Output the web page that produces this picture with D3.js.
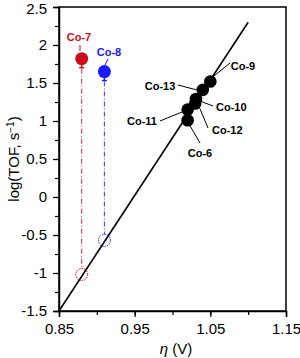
<!DOCTYPE html>
<html>
<head>
<meta charset="utf-8">
<script src="https://cdn.jsdelivr.net/npm/d3@7"></script>
<style>
  body { margin: 0; background: #fff; }
  svg { font-family: "Liberation Sans", Arial, sans-serif; }
</style>
</head>
<body>
<svg id="chart" width="300" height="358"></svg>
<script>
// Data
const blackPoints = [
    {name: "Co-9",  eta: 1.05,  logTOF: 1.52},
    {name: "Co-13", eta: 1.04,  logTOF: 1.41},
    {name: "Co-10", eta: 1.031, logTOF: 1.29},
    {name: "Co-12", eta: 1.03,  logTOF: 1.23},
    {name: "Co-11", eta: 1.02,  logTOF: 1.15},
    {name: "Co-6",  eta: 1.02,  logTOF: 1.01}
];
const colorPoints = [
    {name: "Co-7", eta: 0.88, logTOF: 1.82, onLine: -1.02, color: "#cc0a1e"},
    {name: "Co-8", eta: 0.91, logTOF: 1.65, onLine: -0.57, color: "#1a1aff"}
];
const fitLine = [{eta: 0.85, logTOF: -1.5}, {eta: 1.10, logTOF: 2.30}];
const xTicks = [0.85, 0.95, 1.05, 1.15];
const yTicks = [-1.5, -1, -0.5, 0, 0.5, 1, 1.5, 2, 2.5];

// label positions and leader line ends (px)
const labelSpec = {
    "Co-9":  {tx: 243, ty: 70, anchor: "middle", lx1: 214, ly1: 76, lx2: 230, ly2: 63},
    "Co-13": {tx: 160, ty: 90, anchor: "middle", lx1: 178, ly1: 85, lx2: 197, ly2: 90},
    "Co-10": {tx: 216, ty: 111, anchor: "start", lx1: 200, ly1: 101, lx2: 213, ly2: 106},
    "Co-12": {tx: 212, ty: 134, anchor: "start", lx1: 198, ly1: 104, lx2: 208, ly2: 128},
    "Co-11": {tx: 142, ty: 125, anchor: "middle", lx1: 160, ly1: 121, lx2: 182, ly2: 112},
    "Co-6":  {tx: 200, ty: 157, anchor: "middle", lx1: 189, ly1: 124, lx2: 200, ly2: 143},
    "Co-7":  {tx: 79, ty: 41, anchor: "middle", lx1: 80, ly1: 45, lx2: 80, ly2: 51},
    "Co-8":  {tx: 109, ty: 56, anchor: "middle", lx1: 108, ly1: 59, lx2: 105, ly2: 65}
};

const svg = d3.select("#chart");
const margin = {top: 7, right: 14, bottom: 47, left: 59};
const width = 300 - margin.left - margin.right;
const height = 358 - margin.top - margin.bottom;

const x = d3.scaleLinear().domain([0.85, 1.15]).range([0, width]);
const y = d3.scaleLinear().domain([-1.5, 2.5]).range([height, 0]);

const g = svg.append("g").attr("transform", `translate(${margin.left},${margin.top})`);

// frame
g.append("rect")
    .attr("width", width).attr("height", height)
    .attr("fill", "none").attr("stroke", "#000").attr("stroke-width", 1.5);

// minor ticks
g.append("g")
    .attr("transform", `translate(0,${height})`)
    .call(d3.axisBottom(x).tickValues(d3.range(0.85, 1.151, 0.05)).tickSize(4).tickFormat(""))
    .call(a => a.select(".domain").remove());
g.append("g")
    .call(d3.axisLeft(y).tickValues(d3.range(-1.5, 2.51, 0.25)).tickSize(4).tickFormat(""))
    .call(a => a.select(".domain").remove());

// major ticks
const xAxis = g.append("g")
    .attr("transform", `translate(0,${height})`)
    .call(d3.axisBottom(x).tickValues(xTicks).tickSize(6).tickPadding(6).tickFormat(d3.format(".2f")));
const yAxis = g.append("g")
    .call(d3.axisLeft(y).tickValues(yTicks).tickSize(6).tickPadding(6).tickFormat(d => d));
[xAxis, yAxis].forEach(a => {
    a.select(".domain").attr("stroke-width", 1.5);
    a.selectAll("text").attr("font-size", 15).attr("fill", "#000")
        .attr("font-family", "Liberation Sans, Arial, sans-serif");
});
g.selectAll(".tick line").attr("stroke-width", 1.2);
// keep the top label inside the picture
yAxis.selectAll(".tick text").filter(d => d === 2.5).attr("dy", "0.42em");

// titles
const yt = svg.append("text")
    .attr("transform", `translate(19,${margin.top + height / 2}) rotate(-90)`)
    .attr("text-anchor", "middle")
    .attr("font-size", 15);
yt.append("tspan").text("log(TOF, s");
yt.append("tspan").attr("baseline-shift", "super").attr("font-size", 10).text("\u22121");
yt.append("tspan").text(")");

const xt = svg.append("text")
    .attr("x", 176).attr("y", 354)
    .attr("text-anchor", "middle")
    .attr("font-size", 15);
xt.append("tspan").attr("font-style", "italic").text("\u03b7");
xt.append("tspan").text(" (V)");

// fit line
const line = d3.line().x(d => x(d.eta)).y(d => y(d.logTOF));
g.append("path")
    .datum(fitLine)
    .attr("d", line)
    .attr("fill", "none").attr("stroke", "#000").attr("stroke-width", 1.6);

// coloured points: drop lines, open circles, error bars, filled circles
colorPoints.forEach(p => {
    g.append("line")
        .attr("x1", x(p.eta)).attr("x2", x(p.eta))
        .attr("y1", y(p.logTOF)).attr("y2", y(p.onLine) - 6)
        .attr("stroke", p.color).attr("stroke-width", 1.1).attr("stroke-opacity", 0.8)
        .attr("stroke-dasharray", "5,2,1,2");
    g.append("circle")
        .attr("cx", x(p.eta)).attr("cy", y(p.onLine)).attr("r", 6)
        .attr("fill", "none").attr("stroke", p.color).attr("stroke-width", 1)
        .attr("stroke-dasharray", "1.5,1");
    g.append("line")
        .attr("x1", x(p.eta)).attr("x2", x(p.eta))
        .attr("y1", y(p.logTOF)).attr("y2", y(p.logTOF) + 9)
        .attr("stroke", p.color).attr("stroke-width", 1.5);
    g.append("line")
        .attr("x1", x(p.eta) - 2.5).attr("x2", x(p.eta) + 2.5)
        .attr("y1", y(p.logTOF) + 9).attr("y2", y(p.logTOF) + 9)
        .attr("stroke", p.color).attr("stroke-width", 1.5);
    g.append("circle")
        .attr("cx", x(p.eta)).attr("cy", y(p.logTOF)).attr("r", 6.5)
        .attr("fill", p.color);
});

// black points
g.selectAll(".bp")
    .data(blackPoints)
    .enter().append("circle")
    .attr("class", "bp")
    .attr("cx", d => x(d.eta)).attr("cy", d => y(d.logTOF)).attr("r", 6.3)
    .attr("fill", "#000");

// labels and leader lines
const labelled = blackPoints.map(d => ({name: d.name, color: "#000"}))
    .concat(colorPoints.map(d => ({name: d.name, color: d.color})));
labelled.forEach(d => {
    const s = labelSpec[d.name];
    svg.append("line")
        .attr("x1", s.lx1).attr("y1", s.ly1).attr("x2", s.lx2).attr("y2", s.ly2)
        .attr("stroke", d.color).attr("stroke-width", 1);
    svg.append("text")
        .attr("x", s.tx).attr("y", s.ty)
        .attr("text-anchor", s.anchor)
        .attr("font-size", 11).attr("font-weight", "bold")
        .attr("fill", d.color)
        .text(d.name);
});
</script>
</body>
</html>
